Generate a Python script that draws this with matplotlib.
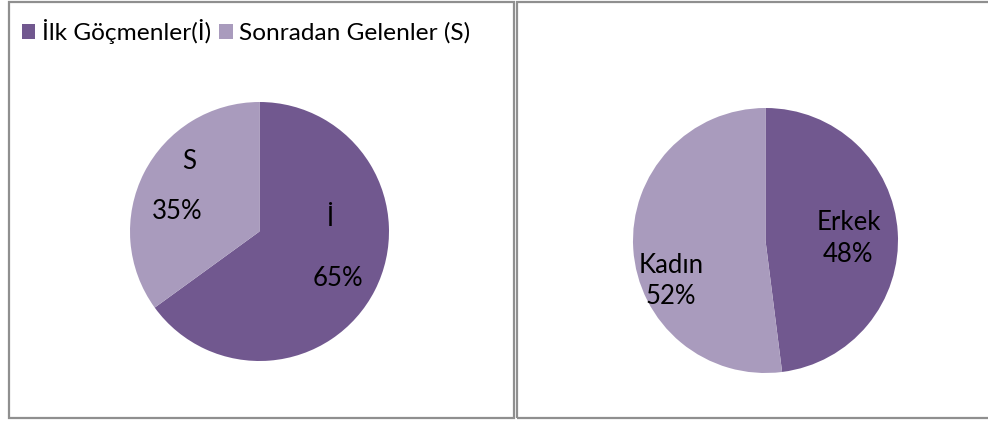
import matplotlib
matplotlib.use("Agg")
import matplotlib.pyplot as plt
from matplotlib.patches import Rectangle

plt.rcParams['font.family'] = ['Lato', 'DejaVu Sans']

# left chart: first vs later immigrants
imm_labels = ["İlk Göçmenler(İ)", "Sonradan Gelenler (S)"]
imm_short = ["İ", "S"]
imm_values = [65, 35]

# right chart: gender
sex_labels = ["Erkek", "Kadın"]
sex_values = [48, 52]

colors = ["#71588F", "#A99BBD"]

W, H = 988, 421
fig = plt.figure(figsize=(W / 100, H / 100), dpi=100)

def px_axes(cx, cy, r):
    return fig.add_axes([(cx - r) / W, (H - cy - r) / H, 2 * r / W, 2 * r / H])

# panel frames
for x0, x1 in [(8.5, 514), (516.5, 992)]:
    fig.patches.append(Rectangle((x0 / W, 3 / H), (x1 - x0) / W, (419 - 3) / H,
                                 transform=fig.transFigure, fill=False,
                                 edgecolor="#8f8f8f", lw=1.6))

fs = 18.5

ax1 = px_axes(259.5, 231.5, 129.5)
wedges1, _ = ax1.pie(imm_values, colors=colors, startangle=90, counterclock=False,
                     radius=1, wedgeprops=dict(linewidth=0))
ax1.set_xlim(-1, 1)
ax1.set_ylim(-1, 1)
# label positions (name, pct) in unit-circle coords
pos1 = [((0.552, 0.104), (0.602, -0.363)), ((-0.544, 0.541), (-0.633, 0.154))]
for name, v, (pn, pp) in zip(imm_short, imm_values, pos1):
    ax1.text(*pn, name, ha="center", va="center", fontsize=fs)
    ax1.text(*pp, f"{v}%", ha="center", va="center", fontsize=fs)

ax2 = px_axes(765.5, 240.5, 132.5)
wedges2, _ = ax2.pie(sex_values, colors=colors, startangle=90, counterclock=False,
                     radius=1, wedgeprops=dict(linewidth=0))
ax2.set_xlim(-1, 1)
ax2.set_ylim(-1, 1)
pos2 = [((0.626, 0.136), (0.619, -0.109)), ((-0.713, -0.185), (-0.717, -0.423))]
for name, v, (pn, pp) in zip(sex_labels, sex_values, pos2):
    ax2.text(*pn, name, ha="center", va="center", fontsize=fs)
    ax2.text(*pp, f"{v}%", ha="center", va="center", fontsize=fs)

fig.legend(wedges1, imm_labels, loc="upper left", bbox_to_anchor=(22 / W, 1 - 19 / H),
           ncol=2, frameon=False, fontsize=17.6, handlelength=0.55, handleheight=0.55,
           handletextpad=0.25, columnspacing=0.35, borderpad=0, borderaxespad=0)

fig.savefig("out.png", dpi=100)
